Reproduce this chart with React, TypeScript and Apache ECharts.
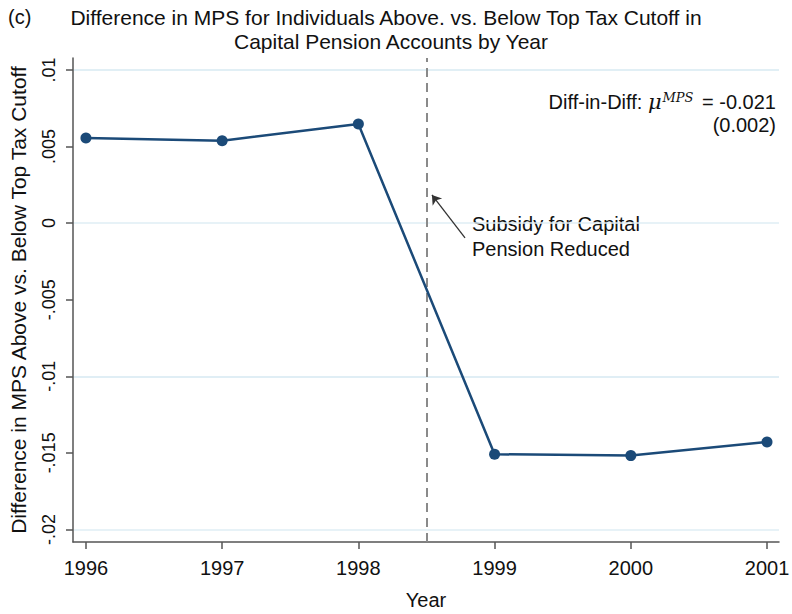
import React, { useEffect, useRef } from "react";
import * as echarts from "echarts";

// Yearly difference in MPS (above vs. below top tax cutoff)
const years = [1996, 1997, 1998, 1999, 2000, 2001];
const mpsDiff = [0.00556, 0.00538, 0.00647, -0.01509, -0.01518, -0.01429];

const yTickValues = [-0.02, -0.015, -0.01, -0.005, 0, 0.005, 0.01];
const yTickLabels = ["-.02", "-.015", "-.01", "-.005", "0", ".005", ".01"];

const reformYear = 1998.5;
const arrowFrom = [1998.783, -0.00097];
const arrowTo = [1998.54, 0.00184];

const titleLines = [
  "Difference in MPS for Individuals Above. vs. Below Top Tax Cutoff in",
  "Capital Pension Accounts by Year",
];
const panelTag = "(c)";
const noteLines = ["Subsidy for Capital", "Pension Reduced"];
const didEstimate = "-0.021";
const didSe = "(0.002)";

const FONT = "'Liberation Sans', Arial, Helvetica, sans-serif";
const SERIF = "'DejaVu Serif', 'Liberation Serif', serif";
const NAVY = "#1b4a78";
const GRID = "#dfeef5";
const AXIS = "#555555";

const Y_MIN = -0.02082;
const Y_MAX = 0.01078;

export default function App() {
  const ref = useRef<HTMLDivElement>(null);

  useEffect(() => {
    if (!ref.current) return;
    const chart = echarts.init(ref.current, null, { renderer: "svg" });

    const fmtY = (v: number) => {
      let best = 0;
      yTickValues.forEach((t, i) => {
        if (Math.abs(t - v) < Math.abs(yTickValues[best] - v)) best = i;
      });
      return yTickLabels[best];
    };

    chart.setOption({
      animation: false,
      backgroundColor: "#ffffff",
      textStyle: { fontFamily: FONT },
      grid: {
        left: 73,
        right: 13,
        top: 58,
        bottom: 72,
        containLabel: false,
        outerBoundsMode: "none",
      },
      xAxis: {
        type: "value",
        min: 1995.905,
        max: 2001.088,
        name: "Year",
        nameLocation: "middle",
        nameGap: 48,
        nameTextStyle: { fontSize: 20, color: "#111", fontFamily: FONT },
        axisLine: { show: true, onZero: false, lineStyle: { color: AXIS, width: 1.5 } },
        axisTick: {
          show: true,
          customValues: years,
          length: 7,
          lineStyle: { color: AXIS, width: 1.5 },
        },
        axisLabel: {
          customValues: years,
          formatter: (v: number) => String(Math.round(v)),
          fontSize: 20,
          color: "#111",
          margin: 16,
          fontFamily: FONT,
        },
        splitLine: { show: false },
      },
      yAxis: {
        type: "value",
        min: Y_MIN,
        max: Y_MAX,
        name: "Difference in MPS Above vs. Below Top Tax Cutoff",
        nameLocation: "middle",
        nameGap: 44,
        nameRotate: 90,
        nameTextStyle: { fontSize: 21, color: "#111", fontFamily: FONT },
        axisLine: { show: true, onZero: false, lineStyle: { color: AXIS, width: 1.5 } },
        axisTick: {
          show: true,
          customValues: yTickValues,
          length: 7,
          lineStyle: { color: AXIS, width: 1.5 },
        },
        axisLabel: {
          customValues: yTickValues,
          formatter: fmtY,
          rotate: 90,
          fontSize: 18,
          color: "#111",
          margin: 15,
          fontFamily: FONT,
        },
        splitLine: { show: false },
      },
      series: [
        {
          // horizontal grid lines at each labelled y tick, kept beneath the data
          type: "line",
          data: [],
          z: 0,
          silent: true,
          markLine: {
            z: 0,
            silent: true,
            symbol: ["none", "none"],
            label: { show: false },
            lineStyle: { color: GRID, width: 1.5, type: "solid" },
            data: yTickValues.map((v) => ({ yAxis: v })),
          },
        },
        {
          type: "line",
          data: years.map((y, i) => [y, mpsDiff[i]]),
          z: 3,
          symbol: "circle",
          symbolSize: 11,
          lineStyle: { color: NAVY, width: 2.5 },
          itemStyle: { color: NAVY },
          markLine: {
            z: 2,
            silent: true,
            label: { show: false },
            symbolSize: 9,
            data: [
              [
                {
                  coord: [reformYear, Y_MIN],
                  symbol: "none",
                  lineStyle: { color: "#8a8a8a", width: 2, type: [9, 6] },
                },
                { coord: [reformYear, Y_MAX], symbol: "none" },
              ],
              [
                {
                  coord: arrowFrom,
                  symbol: "none",
                  lineStyle: { color: "#333333", width: 1.3, type: "solid" },
                },
                { coord: arrowTo, symbol: "arrow" },
              ],
            ],
          },
        },
      ],
      graphic: [
        {
          type: "text",
          x: 8,
          y: 17,
          style: {
            text: panelTag,
            fontSize: 20,
            fill: "#111",
            fontFamily: FONT,
            verticalAlign: "middle",
          },
        },
        {
          type: "text",
          x: 386,
          y: 17,
          style: {
            text: titleLines[0],
            fontSize: 21,
            fill: "#111",
            fontFamily: FONT,
            align: "center",
            verticalAlign: "middle",
          },
        },
        {
          type: "text",
          x: 391,
          y: 41,
          style: {
            text: titleLines[1],
            fontSize: 21,
            fill: "#111",
            fontFamily: FONT,
            align: "center",
            verticalAlign: "middle",
          },
        },
        {
          type: "text",
          x: 472,
          y: 236,
          style: {
            text: noteLines.join("\n"),
            fontSize: 20,
            lineHeight: 25,
            fill: "#111",
            fontFamily: FONT,
            align: "left",
            verticalAlign: "middle",
          },
        },
        {
          type: "text",
          x: 776,
          y: 102,
          style: {
            rich: {
              s: { fontSize: 20, fontFamily: FONT, fill: "#111" },
              mu: { fontSize: 21, fontFamily: SERIF, fontStyle: "italic", fill: "#111" },
              sup: {
                fontSize: 13,
                fontFamily: SERIF,
                fontStyle: "italic",
                fill: "#111",
                verticalAlign: "bottom",
                padding: [0, 3, 10, 1],
              },
            },
            text: "{s|Diff-in-Diff: }{mu|\u03bc}{sup|MPS}{s| = " + didEstimate + "}",
            align: "right",
            verticalAlign: "middle",
          },
        },
        {
          type: "text",
          x: 776,
          y: 125,
          style: {
            text: didSe,
            fontSize: 20,
            fill: "#111",
            fontFamily: FONT,
            align: "right",
            verticalAlign: "middle",
          },
        },
      ],
    });

    return () => chart.dispose();
  }, []);

  return (
    <div
      ref={ref}
      style={{ position: "absolute", left: 0, top: 0, width: 792, height: 614 }}
    />
  );
}
